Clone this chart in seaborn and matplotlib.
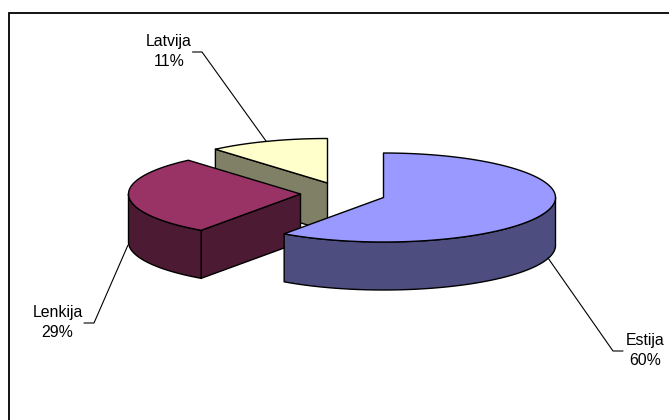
import numpy as np
import matplotlib
matplotlib.use("Agg")
import matplotlib.pyplot as plt
from matplotlib.patches import Polygon
import seaborn as sns

categories = ["Estija", "Lenkija", "Latvija"]
shares = [59.8, 28.9, 11.3]
percent_labels = ["60%", "29%", "11%"]

sns.set_theme(style="white")
plt.rcParams["font.family"] = ["Liberation Sans", "DejaVu Sans"]

top_colors = sns.color_palette(["#9999FF", "#993366", "#FFFFCC"])
side_colors = [tuple(c * 0.5 for c in col) for col in top_colors]

RX, RY, DEPTH = 172.0, 44.5, 48.0
apex = {"Estija": (383.5, 197.5), "Lenkija": (300.5, 194.0), "Latvija": (327.5, 183.0)}
draw_order = ["Latvija", "Lenkija", "Estija"]

label_pos = {"Estija": (645.5, 350.5), "Lenkija": (57.5, 322.5), "Latvija": (169, 51.5)}
leaders = {
    "Estija": [(548, 258), (613, 351), (623, 351)],
    "Lenkija": [(128, 245), (94, 323), (84, 323)],
    "Latvija": [(266, 141), (202, 52), (192.5, 52)],
}

fig = plt.figure(figsize=(6.69, 4.2), dpi=100)
ax = fig.add_axes([0, 0, 1, 1])
ax.set_xlim(0, 669)
ax.set_ylim(420, 0)
ax.axis("off")

# chart frame
ax.plot([9, 9, 669], [420, 13, 13], color="black", lw=1.3, zorder=1, solid_joinstyle="miter")

# cumulative angles, clockwise from 12 o'clock
fractions = np.array(shares, dtype=float) / sum(shares)
starts = np.concatenate([[0], np.cumsum(fractions)[:-1]]) * 2 * np.pi
ends = np.cumsum(fractions) * 2 * np.pi


def rim(cx, cy, a0, a1):
    t = np.linspace(a0, a1, 160)
    return np.column_stack([cx + RX * np.sin(t), cy - RY * np.cos(t)])


z = 2
for name in draw_order:
    i = categories.index(name)
    cx, cy = apex[name]
    a0, a1 = starts[i], ends[i]
    edge = dict(edgecolor="black", linewidth=1.0, joinstyle="round")
    arc = rim(cx, cy, a0, a1)
    down = np.array([0, DEPTH])
    centre = np.array([cx, cy])

    # cut faces: only those turned toward the viewer
    if np.sin(a0) < -1e-6:
        p = rim(cx, cy, a0, a0)[0]
        quad = np.array([centre, p, p + down, centre + down])
        ax.add_patch(Polygon(quad, closed=True, facecolor=side_colors[i], zorder=z, **edge))
        z += 1

    # outer wall: the part of the rim on the front half of the ellipse
    lo, hi = max(a0, np.pi / 2), min(a1, 3 * np.pi / 2)
    if hi > lo:
        wall = rim(cx, cy, lo, hi)
        ax.add_patch(Polygon(np.vstack([wall, wall[::-1] + down]), closed=True,
                             facecolor=side_colors[i], zorder=z, **edge))
        z += 1

    # top face
    ax.add_patch(Polygon(np.vstack([centre, arc]), closed=True,
                         facecolor=top_colors[i], zorder=z, **edge))
    z += 1

for name, pts in leaders.items():
    xs, ys = zip(*pts)
    ax.plot(xs, ys, color="black", lw=0.8, zorder=50)

for i, name in enumerate(categories):
    x, y = label_pos[name]
    ax.text(x, y, f"{name}\n{percent_labels[i]}", ha="center", va="center",
            fontsize=11.4, color="black", linespacing=1.42, zorder=60)

fig.savefig("out.png", dpi=100, facecolor="white")
